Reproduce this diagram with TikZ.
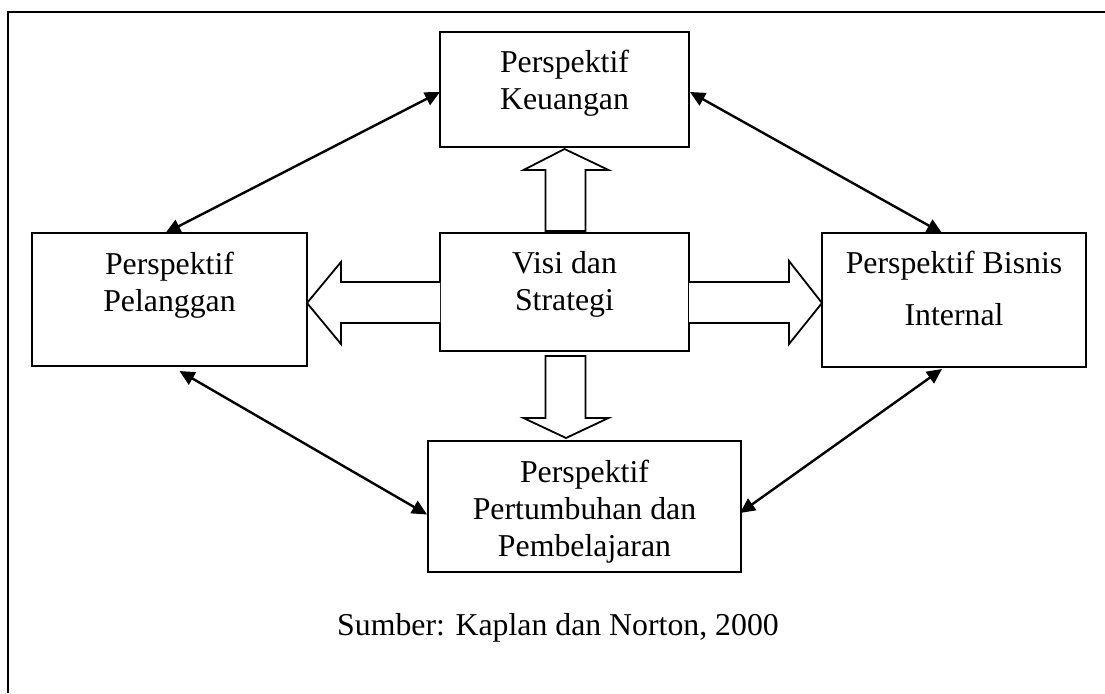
\documentclass[tikz,border=0pt]{standalone}
\usepackage{fontspec}
\setmainfont{Liberation Serif}
\usetikzlibrary{arrows.meta,calc}
\begin{document}
\begin{tikzpicture}[x=1pt,y=-1pt,
  box/.style={draw, line width=2pt, inner sep=0pt, outer sep=0pt},
  txt/.style={inner sep=0pt, align=center, font=\fontsize{31.8}{36.7}\selectfont},
  link/.style={line width=2.4pt, {Triangle[length=15pt,width=14pt]}-{Triangle[length=15pt,width=14pt]}},
  blockarrow/.style={draw, line width=1.8pt, fill=white, line join=miter}]
\useasboundingbox (0,0) rectangle (1105,693);
% frame (only left and top edges visible)
\draw[line width=2pt] (8,693) -- (8,12) -- (1105,12);

% boxes
\node[box, minimum width=249pt, minimum height=115pt] (keu) at (564.5,89.5) {};
\node[box, minimum width=249pt, minimum height=118pt] (visi) at (564.5,292) {};
\node[box, minimum width=275pt, minimum height=133pt] (pel) at (169.5,299.5) {};
\node[box, minimum width=264pt, minimum height=134pt] (bis) at (954,300) {};
\node[box, minimum width=313pt, minimum height=131pt] (pert) at (584.5,506.5) {};

% texts
\node[txt, anchor=north] (keut) at (564.5,50.3) {Perspektif\\Keuangan};
\node[txt, anchor=north] (visit) at (564.5,251.3) {Visi dan\\Strategi};
\node[txt, anchor=north] (pelt) at (169.5,252.3) {Perspektif\\Pelanggan};
\node[txt, anchor=north] (bist) at (954,251.3) {Perspektif Bisnis\\[15pt]Internal};
\node[txt, anchor=north] (pertt) at (584.5,460.3) {Perspektif\\Pertumbuhan dan\\Pembelajaran};
\node[txt, anchor=base] (src) at (558,635) {Sumber: Kaplan dan Norton, 2000};

% block arrows
% up: visi -> keu
\draw[blockarrow]
  ([shift={(-19,-2)}]visi.north) -- ([shift={(-19,-63)}]visi.north)
  -- ([shift={(-41,-63)}]visi.north) -- ([shift={(0,2)}]keu.south)
  -- ([shift={(44,-63)}]visi.north) -- ([shift={(21,-63)}]visi.north)
  -- ([shift={(21,-2)}]visi.north) -- cycle;
% down: visi -> pert
\draw[blockarrow]
  ([shift={(-19,5)}]visi.south) -- ([shift={(-19,67)}]visi.south)
  -- ([shift={(-41,67)}]visi.south) -- ([shift={(-18.5,-3)}]pert.north)
  -- ([shift={(44,67)}]visi.south) -- ([shift={(21,67)}]visi.south)
  -- ([shift={(21,5)}]visi.south) -- cycle;
% right: visi -> bis
\draw[blockarrow]
  ([shift={(0,-10)}]visi.east) -- ([shift={(100,-10)}]visi.east)
  -- ([shift={(100,-31)}]visi.east) -- ([shift={(0,3)}]bis.west)
  -- ([shift={(100,52)}]visi.east) -- ([shift={(100,31)}]visi.east)
  -- ([shift={(0,31)}]visi.east);
% left: visi -> pel
\draw[blockarrow]
  ([shift={(0,-10)}]visi.west) -- ([shift={(-99,-10)}]visi.west)
  -- ([shift={(-99,-30)}]visi.west) -- ([shift={(0,3.5)}]pel.east)
  -- ([shift={(-99,52)}]visi.west) -- ([shift={(-99,31)}]visi.west)
  -- ([shift={(0,31)}]visi.west);

% double-headed connectors
\draw[link] ([shift={(0,2.5)}]keu.west) -- ([shift={(-4,0)}]pel.north);
\draw[link] ([shift={(1,2.5)}]keu.east) -- ([shift={(-12,0)}]bis.north);
\draw[link] ([shift={(10,5)}]pel.south) -- ([shift={(-1,8)}]pert.west);
\draw[link] ([shift={(-12,2)}]bis.south) -- ([shift={(-1,6.5)}]pert.east);
\end{tikzpicture}
\end{document}
